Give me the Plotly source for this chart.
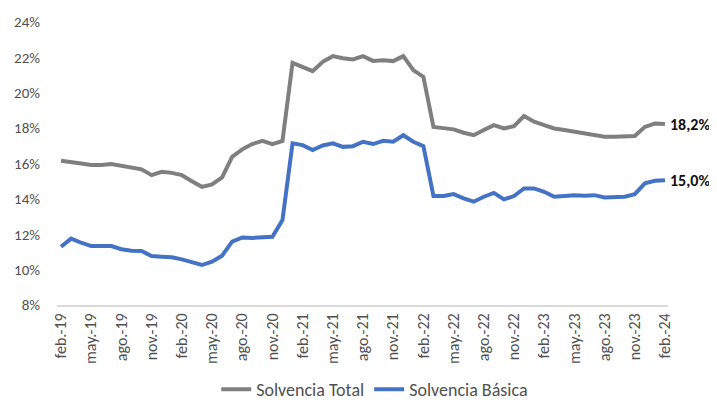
import plotly.graph_objects as go

months_es = ["ene", "feb", "mar", "abr", "may", "jun", "jul", "ago", "sept", "oct", "nov", "dic"]
categories = []
y, m = 2019, 1
for _ in range(61):
    categories.append(f"{months_es[m]}.-{str(y)[2:]}")
    m += 1
    if m == 12:
        m = 0
        y += 1

solvencia_total = [
    16.15, 16.10, 16.00, 15.91, 15.91, 15.97, 15.87, 15.81, 15.67, 15.34,
    15.53, 15.47, 15.34, 15.00, 14.68, 14.82, 15.21, 16.38, 16.80, 17.10,
    17.28, 17.10, 17.28, 21.69, 21.47, 21.22, 21.75, 22.07, 21.95, 21.88,
    22.07, 21.80, 21.84, 21.79, 22.07, 21.28, 20.90, 18.07, 18.00, 17.93,
    17.74, 17.60, 17.89, 18.17, 17.98, 18.11, 18.68, 18.36, 18.17, 17.98,
    17.89, 17.79, 17.70, 17.60, 17.51, 17.51, 17.55, 17.55, 18.07, 18.26,
    18.23,
]
solvencia_basica = [
    11.29, 11.75, 11.52, 11.33, 11.33, 11.33, 11.15, 11.07, 11.05, 10.77,
    10.73, 10.70, 10.58, 10.43, 10.26, 10.45, 10.79, 11.58, 11.82, 11.79,
    11.82, 11.86, 12.80, 17.14, 17.04, 16.76, 17.02, 17.14, 16.94, 16.98,
    17.23, 17.10, 17.28, 17.23, 17.60, 17.23, 16.98, 14.16, 14.16, 14.27,
    14.03, 13.84, 14.12, 14.34, 13.97, 14.16, 14.59, 14.59, 14.40, 14.12,
    14.16, 14.21, 14.18, 14.21, 14.08, 14.08, 14.12, 14.27, 14.88, 15.02,
    15.06,
]
end_labels = ["18,2%", "15,0%"]
y_ticks = [8, 10, 12, 14, 16, 18, 20, 22, 24]
y_tick_text = [f"{v}%" for v in y_ticks]
x_tick_vals = categories[::3]

FONT = "Carlito, Calibri, Lato, sans-serif"
GRAY = "#7F7F7F"
BLUE = "#4472C4"
TXT = "#505050"

fig = go.Figure()
fig.add_trace(go.Scatter(x=categories, y=solvencia_total, mode="lines",
                         name="Solvencia Total", line=dict(color=GRAY, width=4)))
fig.add_trace(go.Scatter(x=categories, y=solvencia_basica, mode="lines",
                         name="Solvencia Básica", line=dict(color=BLUE, width=4)))

for series, lab in zip([solvencia_total, solvencia_basica], end_labels):
    fig.add_annotation(x=categories[-1], y=series[-1], text=f"<b>{lab}</b>",
                       showarrow=False, xanchor="left", yanchor="middle", xshift=3,
                       font=dict(family=FONT, size=16, color="#111111"))

# page body has an 8px default margin, so the figure is sized/offset to compensate
fig.update_layout(
    width=709, height=400,
    margin=dict(l=49, r=49, t=14, b=103, autoexpand=False),
    paper_bgcolor="white", plot_bgcolor="white",
    font=dict(family=FONT, size=15, color=TXT),
    showlegend=True,
    legend=dict(orientation="h", x=0.52, xanchor="center", yref="container",
                y=0.0, yanchor="bottom",
                font=dict(family=FONT, size=18, color=TXT), itemwidth=30,
                traceorder="normal"),
)
fig.update_xaxes(type="category", range=[-0.4, 60.3], tickmode="array",
                 tickvals=x_tick_vals, ticktext=x_tick_vals, tickangle=-90,
                 showgrid=False, showline=True, linecolor="#D9D9D9", linewidth=2,
                 ticks="", zeroline=False, automargin=False,
                 tickfont=dict(family=FONT, size=16, color=TXT))
fig.update_yaxes(range=[8, 24], tickmode="array", tickvals=y_ticks, ticktext=y_tick_text,
                 showgrid=False, zeroline=False, showline=False, ticks="",
                 automargin=False, ticklabelstandoff=16,
                 tickfont=dict(family=FONT, size=15, color=TXT))

fig.write_html("out.html")
